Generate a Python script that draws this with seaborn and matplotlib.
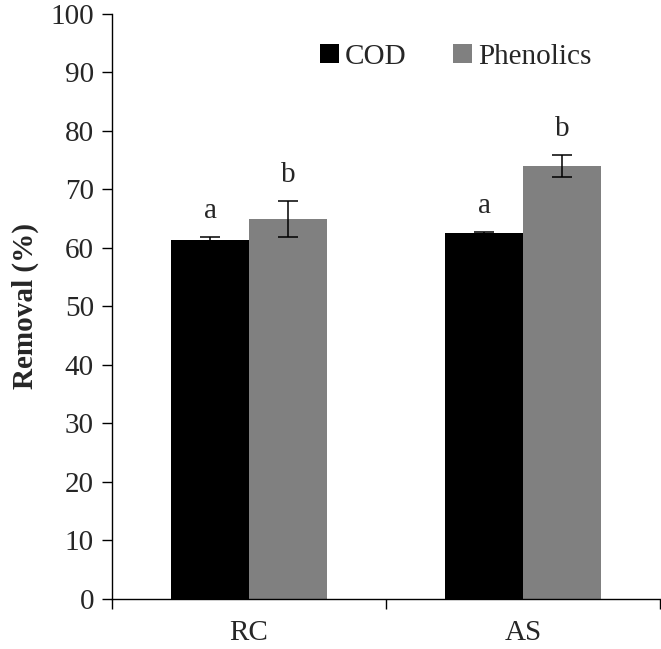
import matplotlib
matplotlib.use('Agg')
import matplotlib.pyplot as plt
import seaborn as sns
import pandas as pd

# 데이터
groups = ['RC', 'AS']
series = ['COD', 'Phenolics']
cod_vals = [61.4, 62.5]
phen_vals = [64.9, 74.0]
cod_err = [0.5, 0.2]
phen_err = [3.1, 1.9]
letters_cod = ['a', 'a']
letters_phen = ['b', 'b']

sns.set_style('white')
plt.rcParams['font.family'] = ['Liberation Serif', 'DejaVu Serif']

df = pd.DataFrame({
    'group': groups * 2,
    'series': [series[0]] * 2 + [series[1]] * 2,
    'value': cod_vals + phen_vals,
})
errs = cod_err + phen_err
letters = letters_cod + letters_phen

fig = plt.figure(figsize=(6.61, 6.49), dpi=100)
ax = fig.add_axes([0.1694, 0.077, 0.8291, 0.902])

sns.barplot(data=df, x='group', y='value', hue='series', order=groups,
            hue_order=series, palette=['#000000', '#808080'], width=0.567,
            gap=0, errorbar=None, saturation=1, linewidth=0, ax=ax)

# 에러바와 유의성 문자
for patch, err, txt in zip(ax.patches, errs, letters):
    cx = patch.get_x() + patch.get_width() / 2
    h = patch.get_height()
    ax.errorbar(cx, h, yerr=err, fmt='none', ecolor='black',
                elinewidth=1.1, capsize=7, capthick=1.1)
    ax.text(cx, h + err + 4.4, txt, ha='center', va='center', fontsize=21)

ax.set_ylim(0, 100)
ax.set_yticks(range(0, 101, 10))
ax.set_xlim(-0.5, 1.5)
ax.set_xticks([-0.5, 0.5, 1.5])
ax.set_xticklabels([])
ax.set_xticks([0, 1], minor=True)
ax.set_xticklabels(groups, minor=True)
ax.tick_params(axis='x', which='minor', bottom=True, length=0, pad=15, labelsize=21)
ax.tick_params(axis='x', which='major', bottom=True, direction='out',
               length=7, width=1, color='black')
ax.tick_params(axis='y', left=True, direction='out', length=7, width=1,
               color='black', labelsize=21, pad=6)
ax.set_xlabel('')
ax.set_ylabel('Removal (%)', fontsize=21, fontweight='bold', labelpad=8)

for s in ['top', 'right']:
    ax.spines[s].set_visible(False)
for s in ['left', 'bottom']:
    ax.spines[s].set_color('black')
    ax.spines[s].set_linewidth(1)

ax.legend(loc='center right', bbox_to_anchor=(0.875, 0.926), ncol=2,
          frameon=False, fontsize=21, handlelength=0.65, handleheight=0.65,
          handletextpad=0.2, columnspacing=1.6, borderpad=0, borderaxespad=0)

fig.savefig('out.png', dpi=100)
